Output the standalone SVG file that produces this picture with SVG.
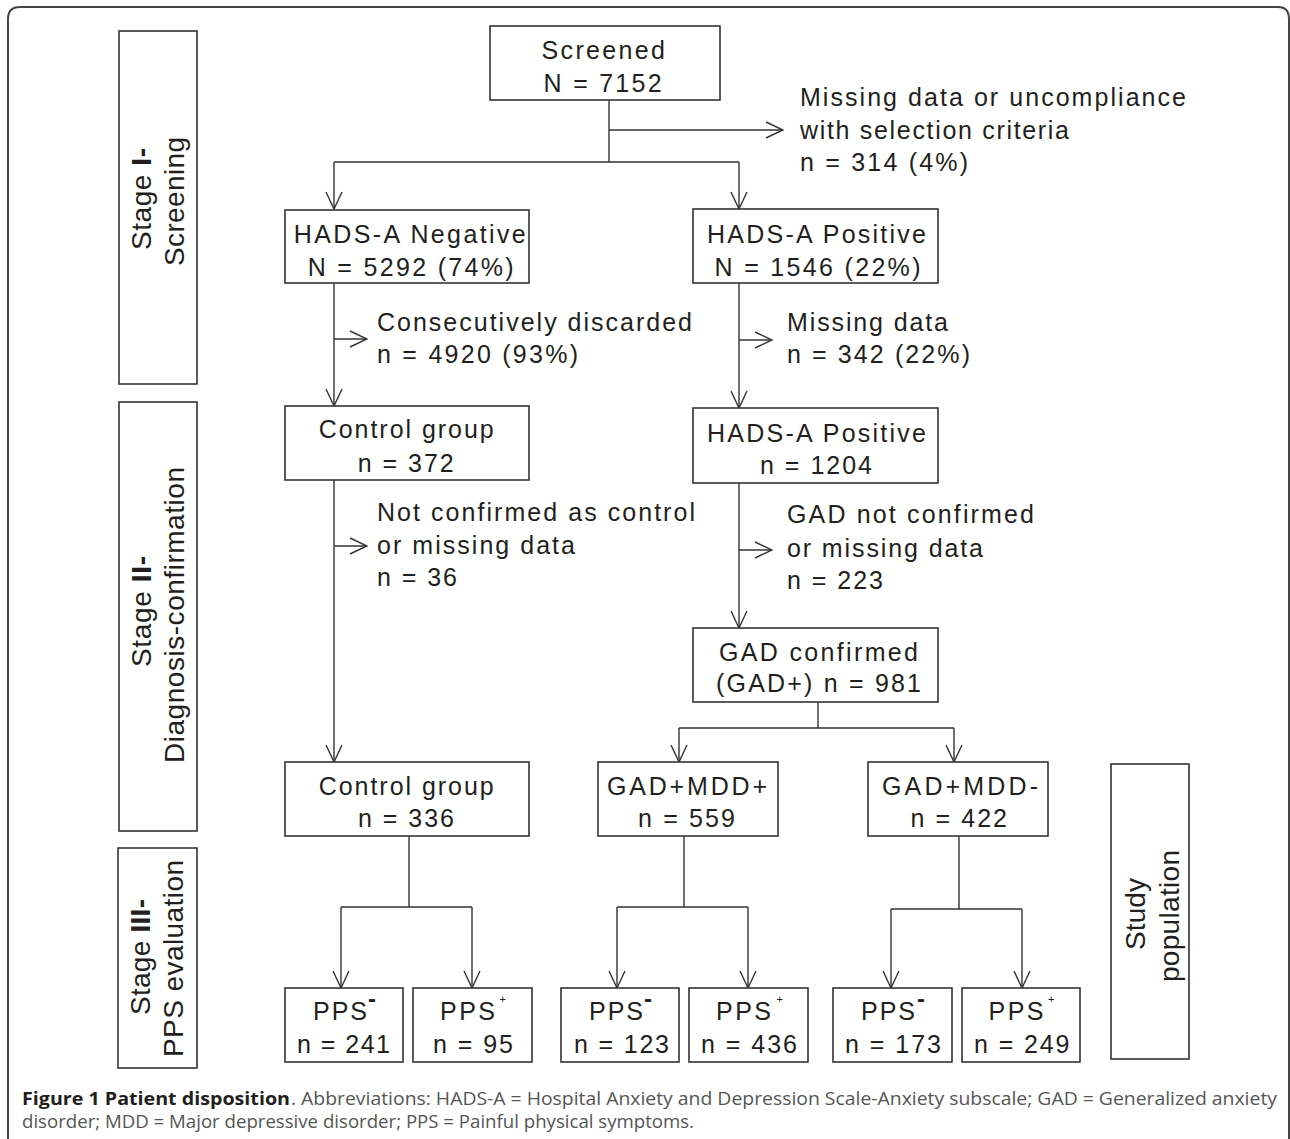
<svg xmlns="http://www.w3.org/2000/svg" width="1290" height="1139" viewBox="0 0 1290 1139">
<defs>
<style>
.bx{fill:#fff;stroke:#333;stroke-width:1.6}
.t{font-family:"Liberation Sans",Arial,sans-serif;font-size:25px;fill:#231f20}
.s{font-family:"Liberation Sans",Arial,sans-serif;font-size:28px;fill:#231f20}
.b{font-weight:bold}
.ln{fill:none;stroke:#333;stroke-width:1.4}
.ar{fill:none;stroke:#333;stroke-width:1.4;marker-end:url(#ah)}
.cap{font-family:"Open Sans","Liberation Sans",sans-serif;font-size:18px;fill:#555}
.capb{font-family:"Open Sans","Liberation Sans",sans-serif;font-size:18px;font-weight:bold;fill:#231f20}
.sup{font-family:"Liberation Sans",Arial,sans-serif;fill:#231f20}
.mn{font-family:"Liberation Sans",Arial,sans-serif;font-size:24px;font-weight:bold;fill:#231f20}
</style>
<marker id="ah" markerUnits="userSpaceOnUse" markerWidth="20" markerHeight="20" viewBox="-19 -10 20 20" refX="0" refY="0" orient="auto">
<path d="M-17,-8 L0,0 L-17,8" fill="none" stroke="#333" stroke-width="1.4"/>
</marker>
</defs>
<rect width="1290" height="1139" fill="#fff"/>
<path d="M8,1145 L8,19 Q8,7 20,7 L1278,7 Q1289,7 1289,19 L1289,1145" fill="none" stroke="#444" stroke-width="2"/>

<g id="stage1">
<rect class="bx" x="119" y="31" width="78" height="353"/>
<text class="s" transform="translate(151,250) rotate(-90)" textLength="102" lengthAdjust="spacing">Stage <tspan class="b">I-</tspan></text>
<text class="s" transform="translate(184,266) rotate(-90)" textLength="129" lengthAdjust="spacing">Screening</text>
</g>
<g id="stage2">
<rect class="bx" x="119" y="402" width="78" height="429"/>
<text class="s" transform="translate(151,667) rotate(-90)" textLength="111" lengthAdjust="spacing">Stage <tspan class="b">II-</tspan></text>
<text class="s" transform="translate(184,763) rotate(-90)" textLength="296" lengthAdjust="spacing">Diagnosis-confirmation</text>
</g>
<g id="stage3">
<rect class="bx" x="118" y="848" width="79" height="220"/>
<text class="s" transform="translate(150,1015) rotate(-90)" textLength="116" lengthAdjust="spacing">Stage <tspan class="b">III-</tspan></text>
<text class="s" transform="translate(183,1057) rotate(-90)" textLength="197" lengthAdjust="spacing">PPS evaluation</text>
</g>
<g id="study">
<rect class="bx" x="1111" y="764" width="78" height="295"/>
<text class="s" transform="translate(1145,950) rotate(-90)" textLength="72" lengthAdjust="spacing">Study</text>
<text class="s" transform="translate(1179,982) rotate(-90)" textLength="132" lengthAdjust="spacing">population</text>
</g>

<g id="connectors">
<path class="ln" d="M609,100 V162 M334,162 H739"/>
<path class="ar" d="M334,162 V209"/>
<path class="ar" d="M739,162 V209"/>
<path class="ar" d="M609,130 H783"/>
<path class="ar" d="M334,283 V406"/>
<path class="ar" d="M334,339 H367"/>
<path class="ar" d="M739,283 V408"/>
<path class="ar" d="M739,340 H772"/>
<path class="ar" d="M334,480 V762"/>
<path class="ar" d="M334,546 H367"/>
<path class="ar" d="M739,483 V628"/>
<path class="ar" d="M739,550 H772"/>
<path class="ln" d="M818,702 V728 M679,728 H954"/>
<path class="ar" d="M679,728 V762"/>
<path class="ar" d="M954,728 V762"/>
<path class="ln" d="M409,836 V907 M341,907 H472"/>
<path class="ar" d="M341,907 V988"/>
<path class="ar" d="M472,907 V988"/>
<path class="ln" d="M684,836 V907 M617,907 H748"/>
<path class="ar" d="M617,907 V988"/>
<path class="ar" d="M748,907 V988"/>
<path class="ln" d="M959,836 V909 M891,909 H1022"/>
<path class="ar" d="M891,909 V988"/>
<path class="ar" d="M1022,909 V988"/>
</g>

<g id="screened">
<rect class="bx" x="490" y="26" width="230" height="74"/>
<text class="t" x="541.5" y="59" textLength="123.5" lengthAdjust="spacing">Screened</text>
<text class="t" x="543.6" y="92" textLength="118" lengthAdjust="spacing">N = 7152</text>
</g>
<g id="excluded1">
<text class="t" x="800" y="106" textLength="386" lengthAdjust="spacing">Missing data or uncompliance</text>
<text class="t" x="800" y="139" textLength="269" lengthAdjust="spacing">with selection criteria</text>
<text class="t" x="800" y="171" textLength="168" lengthAdjust="spacing">n = 314 (4%)</text>
</g>
<g id="hadsneg">
<rect class="bx" x="285" y="210" width="244" height="73"/>
<text class="t" x="293.7" y="243" textLength="232" lengthAdjust="spacing">HADS-A Negative</text>
<text class="t" x="307.7" y="276" textLength="206" lengthAdjust="spacing">N = 5292 (74%)</text>
</g>
<g id="hadspos">
<rect class="bx" x="693" y="209" width="245" height="74"/>
<text class="t" x="707" y="243" textLength="219" lengthAdjust="spacing">HADS-A Positive</text>
<text class="t" x="714.5" y="276" textLength="206" lengthAdjust="spacing">N = 1546 (22%)</text>
</g>
<g id="discarded">
<text class="t" x="377" y="331" textLength="315" lengthAdjust="spacing">Consecutively discarded</text>
<text class="t" x="377" y="363" textLength="201" lengthAdjust="spacing">n = 4920 (93%)</text>
</g>
<g id="missing2">
<text class="t" x="787" y="331" textLength="161" lengthAdjust="spacing">Missing data</text>
<text class="t" x="787" y="363" textLength="183" lengthAdjust="spacing">n = 342 (22%)</text>
</g>
<g id="control1">
<rect class="bx" x="285" y="406" width="244" height="74"/>
<text class="t" x="318.7" y="438" textLength="175" lengthAdjust="spacing">Control group</text>
<text class="t" x="357.7" y="472" textLength="96" lengthAdjust="spacing">n = 372</text>
</g>
<g id="hadspos2">
<rect class="bx" x="693" y="408" width="245" height="75"/>
<text class="t" x="707" y="442" textLength="219" lengthAdjust="spacing">HADS-A Positive</text>
<text class="t" x="760" y="474" textLength="112" lengthAdjust="spacing">n = 1204</text>
</g>
<g id="notconfirmed">
<text class="t" x="377" y="521" textLength="318" lengthAdjust="spacing">Not confirmed as control</text>
<text class="t" x="377" y="554" textLength="198" lengthAdjust="spacing">or missing data</text>
<text class="t" x="377" y="586" textLength="80" lengthAdjust="spacing">n = 36</text>
</g>
<g id="gadnot">
<text class="t" x="787" y="523" textLength="247" lengthAdjust="spacing">GAD not confirmed</text>
<text class="t" x="787" y="557" textLength="196" lengthAdjust="spacing">or missing data</text>
<text class="t" x="787" y="589" textLength="96" lengthAdjust="spacing">n = 223</text>
</g>
<g id="gadconf">
<rect class="bx" x="693" y="628" width="245" height="74"/>
<text class="t" x="719" y="661" textLength="199" lengthAdjust="spacing">GAD confirmed</text>
<text class="t" x="716" y="692" textLength="205" lengthAdjust="spacing">(GAD+) n = 981</text>
</g>
<g id="control2">
<rect class="bx" x="285" y="762" width="244" height="74"/>
<text class="t" x="318.7" y="795" textLength="175" lengthAdjust="spacing">Control group</text>
<text class="t" x="358" y="827" textLength="96" lengthAdjust="spacing">n = 336</text>
</g>
<g id="mddpos">
<rect class="bx" x="598" y="762" width="180" height="74"/>
<text class="t" x="607" y="795" textLength="160" lengthAdjust="spacing">GAD+MDD+</text>
<text class="t" x="638" y="827" textLength="97" lengthAdjust="spacing">n = 559</text>
</g>
<g id="mddneg">
<rect class="bx" x="868" y="762" width="180" height="74"/>
<text class="t" x="882" y="795" textLength="156" lengthAdjust="spacing">GAD+MDD-</text>
<text class="t" x="910.5" y="827" textLength="96.5" lengthAdjust="spacing">n = 422</text>
</g>

<g id="pps1neg">
<rect class="bx" x="285" y="988" width="118" height="74"/>
<text class="t" x="313" y="1020" textLength="54" lengthAdjust="spacing">PPS</text>
<text class="mn" x="368" y="1007">-</text>
<text class="t" x="297" y="1053" textLength="93" lengthAdjust="spacing">n = 241</text>
</g>
<g id="pps1pos">
<rect class="bx" x="413" y="988" width="119" height="74"/>
<text class="t" x="440" y="1020" textLength="55" lengthAdjust="spacing">PPS</text>
<text class="sup" x="499.5" y="1003" font-size="11">+</text>
<text class="t" x="433" y="1053" textLength="80" lengthAdjust="spacing">n = 95</text>
</g>
<g id="pps2neg">
<rect class="bx" x="561" y="988" width="118" height="74"/>
<text class="t" x="589" y="1020" textLength="54" lengthAdjust="spacing">PPS</text>
<text class="mn" x="644" y="1007">-</text>
<text class="t" x="574" y="1053" textLength="95" lengthAdjust="spacing">n = 123</text>
</g>
<g id="pps2pos">
<rect class="bx" x="689" y="988" width="119" height="74"/>
<text class="t" x="716" y="1020" textLength="55" lengthAdjust="spacing">PPS</text>
<text class="sup" x="776.5" y="1003" font-size="11">+</text>
<text class="t" x="701" y="1053" textLength="96" lengthAdjust="spacing">n = 436</text>
</g>
<g id="pps3neg">
<rect class="bx" x="833" y="988" width="119" height="74"/>
<text class="t" x="861" y="1020" textLength="54" lengthAdjust="spacing">PPS</text>
<text class="mn" x="917" y="1007">-</text>
<text class="t" x="845" y="1053" textLength="96" lengthAdjust="spacing">n = 173</text>
</g>
<g id="pps3pos">
<rect class="bx" x="962" y="988" width="118" height="74"/>
<text class="t" x="988.5" y="1020" textLength="55" lengthAdjust="spacing">PPS</text>
<text class="sup" x="1048" y="1003" font-size="11">+</text>
<text class="t" x="974" y="1053" textLength="95.5" lengthAdjust="spacing">n = 249</text>
</g>

<g id="caption">
<text class="capb" x="22" y="1105" textLength="268" lengthAdjust="spacingAndGlyphs">Figure 1 Patient disposition</text>
<text class="cap" x="291" y="1105" textLength="986" lengthAdjust="spacingAndGlyphs">. Abbreviations: HADS-A = Hospital Anxiety and Depression Scale-Anxiety subscale; GAD = Generalized anxiety</text>
<text class="cap" x="22" y="1128" textLength="672" lengthAdjust="spacingAndGlyphs">disorder; MDD = Major depressive disorder; PPS = Painful physical symptoms.</text>
</g>
</svg>
